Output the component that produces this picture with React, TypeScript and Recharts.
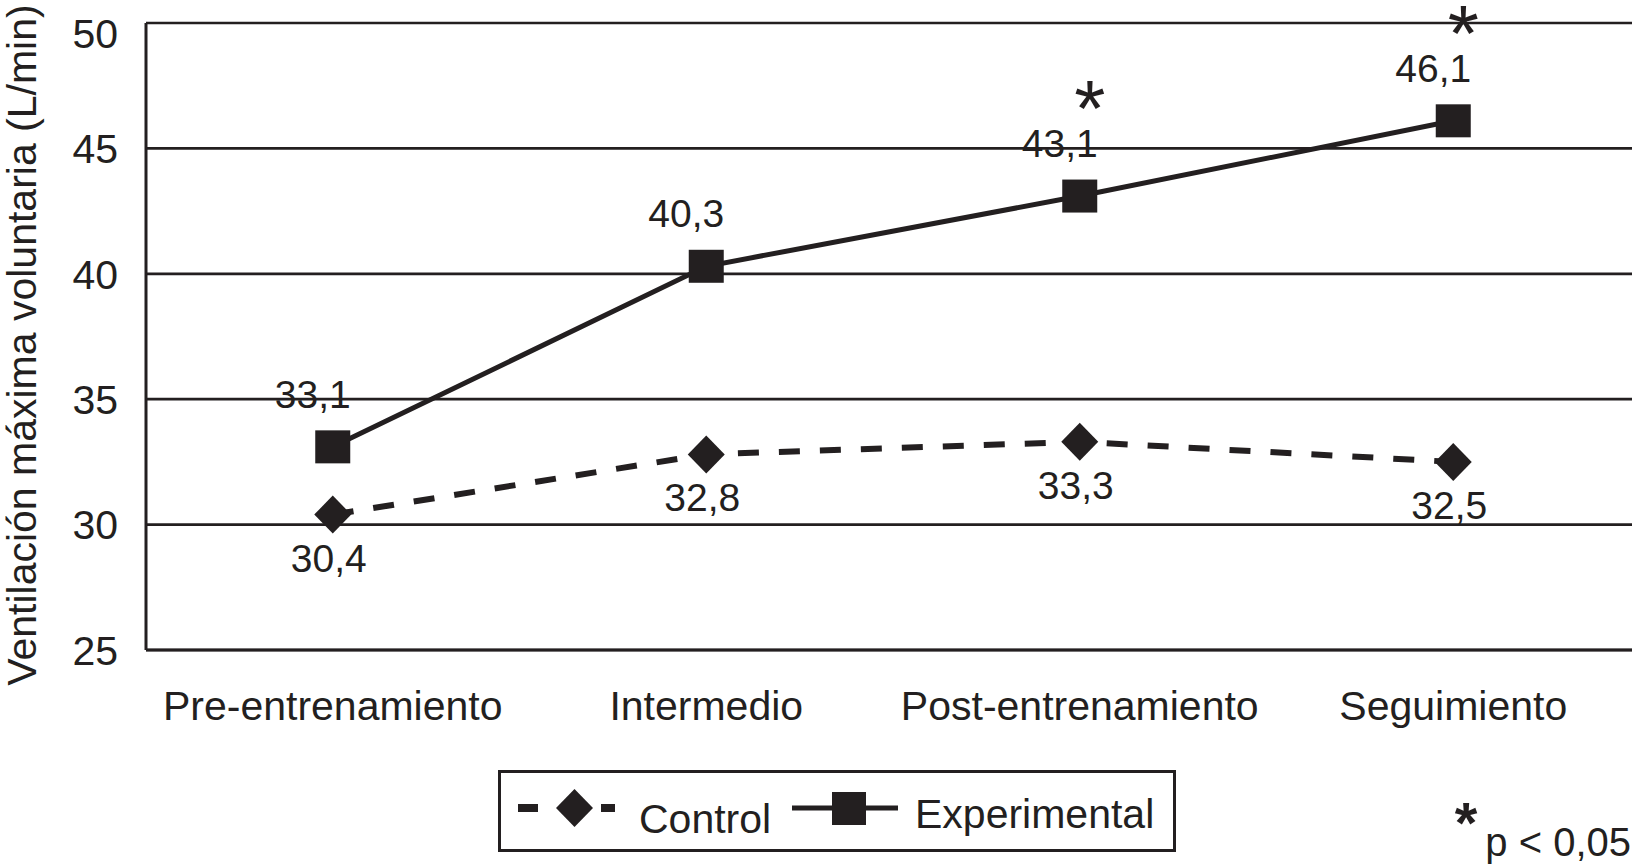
import React from "react";
import {
  CartesianGrid,
  Customized,
  LabelList,
  Legend,
  Line,
  LineChart,
  XAxis,
  YAxis,
} from "recharts";

const categories = ["Pre-entrenamiento", "Intermedio", "Post-entrenamiento", "Seguimiento"];
const controlValues = [30.4, 32.8, 33.3, 32.5];
const experimentalValues = [33.1, 40.3, 43.1, 46.1];
const significance = ["", "", "*", "*"];
const yTicks = [25, 30, 35, 40, 45, 50];

const data = categories.map((name, i) => ({
  name,
  control: controlValues[i],
  experimental: experimentalValues[i],
  sig: significance[i],
}));

const INK = "#231f20";
const FONT = '"Liberation Sans", Arial, Helvetica, sans-serif';
const fmt = (v: number) => v.toFixed(1).replace(".", ",");

function DiamondDot({ cx, cy }: any) {
  if (cx == null || cy == null) return null;
  return (
    <polygon
      points={`${cx},${cy - 19} ${cx + 18.5},${cy} ${cx},${cy + 19} ${cx - 18.5},${cy}`}
      fill={INK}
    />
  );
}

function SquareDot({ cx, cy }: any) {
  if (cx == null || cy == null) return null;
  return <rect x={cx - 17.5} y={cy - 16.5} width={35} height={33} fill={INK} />;
}

const controlLabel = (p: any) => (
  <text x={p.x - 4} y={p.y + 57} textAnchor="middle" fill={INK} fontSize={39} fontFamily={FONT}>
    {fmt(p.value)}
  </text>
);

const expLabel = (p: any) => (
  <text x={p.x - 20} y={p.y - 39} textAnchor="middle" fill={INK} fontSize={39} fontFamily={FONT}>
    {fmt(p.value)}
  </text>
);

const starLabel = (p: any) =>
  p.value ? (
    <text x={p.x + 10} y={p.y - 60} textAnchor="middle" fill={INK} fontSize={80} fontFamily={FONT}>
      {p.value}
    </text>
  ) : null;

function YTick({ x, y, payload }: any) {
  // keep the top label inside the picture, like the original
  const yy = Math.max(y, 33);
  return (
    <text x={x} y={yy} dy={14.7} textAnchor="end" fill={INK} fontSize={41} fontFamily={FONT}>
      {payload.value}
    </text>
  );
}

function LegendBox({ payload }: any) {
  const names = (payload || []).map((p: any) => p.value);
  return (
    <div
      style={{
        width: 678,
        height: 82,
        boxSizing: "border-box",
        border: `3px solid ${INK}`,
        position: "relative",
        background: "#fff",
      }}
    >
      <svg width={672} height={76} style={{ position: "absolute", left: 0, top: 0 }}>
        <line x1={17} y1={35} x2={37} y2={35} stroke={INK} strokeWidth={8} />
        <polygon points="73.5,16 92,35 73.5,54 55,35" fill={INK} />
        <line x1={100} y1={35} x2={114} y2={35} stroke={INK} strokeWidth={8} />
        <text x={138} y={60} fill={INK} fontSize={41} fontFamily={FONT}>
          {names[0] ?? "Control"}
        </text>
        <line x1={291} y1={35} x2={397} y2={35} stroke={INK} strokeWidth={5} />
        <rect x={331} y={19} width={34} height={33} fill={INK} />
        <text x={414} y={55} fill={INK} fontSize={41} fontFamily={FONT}>
          {names[1] ?? "Experimental"}
        </text>
      </svg>
    </div>
  );
}

function Extras() {
  return (
    <g fontFamily={FONT} fill={INK}>
      <text
        x={35.5}
        y={345}
        transform="rotate(-90 35.5 345)"
        textAnchor="middle"
        fontSize={41}
      >
        Ventilación máxima voluntaria (L/min)
      </text>
      <text x={1466} y={843} textAnchor="middle" fontSize={58} fontWeight={700}>
        *
      </text>
      <text x={1631} y={856} textAnchor="end" fontSize={40}>
        p &lt; 0,05
      </text>
    </g>
  );
}

export default function App() {
  return (
    <div style={{ width: 1632, height: 868, overflow: "hidden", background: "#fff" }}>
      <style>{`html,body{margin:0;padding:0;overflow:hidden;background:#fff}`}</style>
      <LineChart
        width={1640}
        height={868}
        data={data}
        margin={{ top: 23, right: 0, left: 0, bottom: 158 }}
      >
        <CartesianGrid vertical={false} stroke={INK} strokeWidth={2.7} />
        <XAxis
          dataKey="name"
          height={60}
          interval={0}
          padding={{ left: 186.75, right: 186.75 }}
          tickLine={false}
          tickSize={0}
          tickMargin={41}
          axisLine={{ stroke: INK, strokeWidth: 3 }}
          tick={{ fill: INK, fontSize: 41, fontFamily: FONT }}
        />
        <YAxis
          width={146}
          domain={[25, 50]}
          ticks={yTicks}
          interval={0}
          tickLine={false}
          tickSize={0}
          tickMargin={28}
          axisLine={{ stroke: INK, strokeWidth: 3 }}
          tick={<YTick />}
        />
        <Line
          dataKey="control"
          name="Control"
          stroke={INK}
          strokeWidth={6}
          strokeDasharray="21 20"
          dot={(p: any) => <DiamondDot key={`c${p.index}`} cx={p.cx} cy={p.cy} />}
          activeDot={false}
          isAnimationActive={false}
        >
          <LabelList dataKey="control" content={controlLabel} />
        </Line>
        <Line
          dataKey="experimental"
          name="Experimental"
          stroke={INK}
          strokeWidth={5}
          dot={(p: any) => <SquareDot key={`e${p.index}`} cx={p.cx} cy={p.cy} />}
          activeDot={false}
          isAnimationActive={false}
        >
          <LabelList dataKey="experimental" content={expLabel} />
          <LabelList dataKey="sig" content={starLabel} />
        </Line>
        <Legend
          layout="horizontal"
          verticalAlign="middle"
          align="center"
          width={678}
          height={82}
          wrapperStyle={{ left: 498, top: 770 }}
          content={<LegendBox />}
        />
        <Customized component={Extras} />
      </LineChart>
    </div>
  );
}
